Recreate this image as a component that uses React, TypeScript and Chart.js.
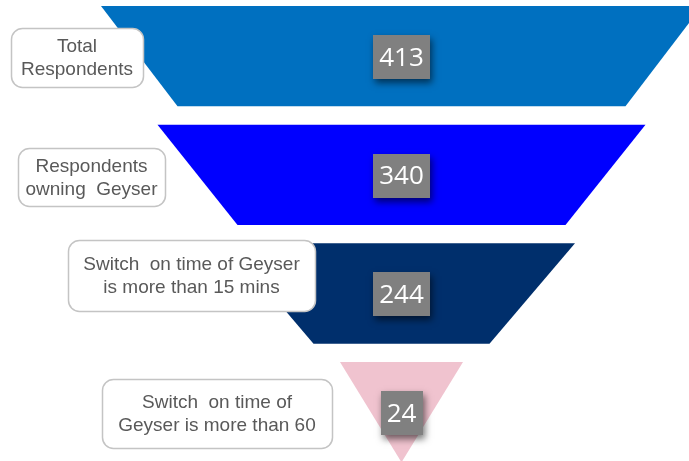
import React, { useEffect, useRef } from "react";
import { Chart, registerables } from "chart.js";
Chart.register(...registerables);

// ---- data ----
const stageLabels: string[][] = [
  ["Total", "Respondents"],
  ["Respondents", "owning  Geyser"],
  ["Switch  on time of Geyser", "is more than 15 mins"],
  ["Switch  on time of", "Geyser is more than 60"],
];
const stageValues = [413, 340, 244, 24];
// funnel segment widths (top / bottom edge) in x-scale units
const funnelTopWidth = [601, 488, 347, 123];
const funnelBottomWidth = [448, 328, 176, 0];
const stageColors = ["#0070C0", "#0000FF", "#002F6C", "#F0C3CF"];

// ---- layout (annotation boxes, px) ----
const BAND = 0.845;
const calloutBoxes = [
  { l: 11, r: 143, t: 28, b: 87 },
  { l: 18, r: 165, t: 148, b: 206 },
  { l: 68, r: 315, t: 240, b: 311 },
  { l: 102, r: 332, t: 379, b: 448 },
];

function roundRect(ctx: CanvasRenderingContext2D, x: number, y: number, w: number, h: number, r: number) {
  ctx.beginPath();
  ctx.moveTo(x + r, y);
  ctx.lineTo(x + w - r, y);
  ctx.arcTo(x + w, y, x + w, y + r, r);
  ctx.lineTo(x + w, y + h - r);
  ctx.arcTo(x + w, y + h, x + w - r, y + h, r);
  ctx.lineTo(x + r, y + h);
  ctx.arcTo(x, y + h, x, y + h - r, r);
  ctx.lineTo(x, y + r);
  ctx.arcTo(x, y, x + r, y, r);
  ctx.closePath();
}

const funnelPlugin = {
  id: "funnelPlugin",
  afterDatasetsDraw(chart: any) {
    const { ctx } = chart;
    const xs = chart.scales.x;
    const ys = chart.scales.y;
    ctx.save();
    // funnel segments
    stageValues.forEach((_v, i) => {
      const yt = ys.getPixelForValue(i);
      const yb = ys.getPixelForValue(i + BAND);
      ctx.beginPath();
      ctx.moveTo(xs.getPixelForValue(-funnelTopWidth[i] / 2), yt);
      ctx.lineTo(xs.getPixelForValue(funnelTopWidth[i] / 2), yt);
      ctx.lineTo(xs.getPixelForValue(funnelBottomWidth[i] / 2), yb);
      ctx.lineTo(xs.getPixelForValue(-funnelBottomWidth[i] / 2), yb);
      ctx.closePath();
      ctx.fillStyle = stageColors[i];
      ctx.fill();
    });
    // callouts
    stageLabels.forEach((lines, i) => {
      const b = calloutBoxes[i];
      roundRect(ctx, b.l + 0.5, b.t + 0.5, b.r - b.l, b.b - b.t, 11);
      ctx.fillStyle = "#FFFFFF";
      ctx.fill();
      ctx.lineWidth = 1.5;
      ctx.strokeStyle = "#C4C4C4";
      ctx.stroke();
      ctx.fillStyle = "#595959";
      ctx.font = "19px 'Liberation Sans', Arial, sans-serif";
      ctx.textAlign = "center";
      ctx.textBaseline = "middle";
      const cx = (b.l + b.r) / 2;
      const cy = (b.t + b.b) / 2 + 1;
      const lh = 23;
      lines.forEach((ln, k) => {
        ctx.fillText(ln, cx, cy + (k - (lines.length - 1) / 2) * lh);
      });
    });
    // value boxes
    ctx.font = "26px 'Open Sans', sans-serif";
    stageValues.forEach((v, i) => {
      const cx = xs.getPixelForValue(0);
      const cy = ys.getPixelForValue(i + BAND / 2) + 1;
      const txt = String(v);
      const tw = ctx.measureText(txt).width;
      const w = Math.round(tw + 12);
      const h = 44;
      ctx.save();
      ctx.shadowColor = "rgba(0,0,0,0.55)";
      ctx.shadowBlur = 7;
      ctx.shadowOffsetX = 2;
      ctx.shadowOffsetY = 4;
      ctx.fillStyle = "#808080";
      ctx.fillRect(Math.round(cx - w / 2), Math.round(cy - h / 2), w, h);
      ctx.restore();
      ctx.fillStyle = "#FFFFFF";
      ctx.textAlign = "center";
      ctx.textBaseline = "middle";
      ctx.fillText(txt, cx, cy + 1);
    });
    ctx.restore();
  },
};

export default function App() {
  const ref = useRef<HTMLCanvasElement | null>(null);
  useEffect(() => {
    document.body.style.margin = "0";
    const canvas = ref.current!;
    const chart = new Chart(canvas, {
      type: "scatter",
      data: { datasets: [{ data: [] }] },
      options: {
        animation: false,
        responsive: false,
        maintainAspectRatio: false,
        layout: { padding: 0 },
        plugins: { legend: { display: false }, tooltip: { enabled: false } },
        scales: {
          x: { type: "linear", min: -401.5, max: 287.5, display: false },
          y: { type: "linear", min: -0.0506, max: 3.834, reverse: true, display: false },
        },
      },
      plugins: [funnelPlugin],
    });
    return () => chart.destroy();
  }, []);
  return (
    <div style={{ width: 689, height: 461, background: "#FFFFFF" }}>
      <canvas ref={ref} width={689} height={461} style={{ display: "block", width: 689, height: 461 }} />
    </div>
  );
}
